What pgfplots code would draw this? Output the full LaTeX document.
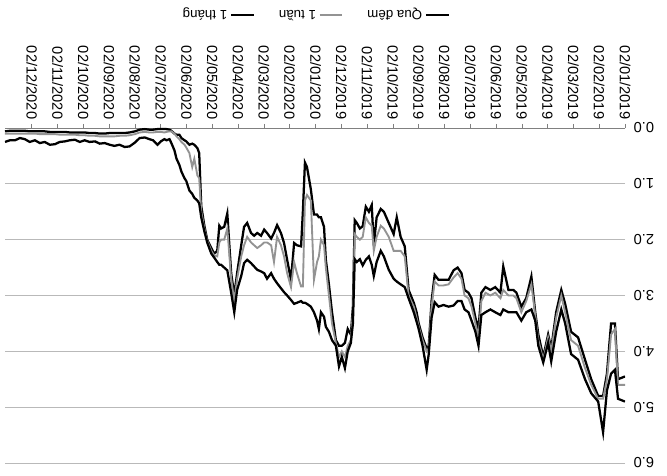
\documentclass[border=0pt]{standalone}
\usepackage{pgfplots}
\pgfplotsset{compat=1.18}
\usepackage{pgfplotstable}
\usepackage{fontspec}
\setmainfont{Liberation Sans}

% m = months after 02/01/2019; A = qua dem, B = 1 tuan, C = 1 thang (%)
\pgfplotstableread{
m A B C
0.00 4.45 4.60 4.90
0.27 4.50 4.60 4.85
0.39 3.50 3.60 4.33
0.54 3.50 3.70 4.40
0.70 4.40 4.50 4.70
0.85 4.80 4.85 5.45
1.04 4.80 4.85 4.90
1.31 4.50 4.60 4.75
1.55 4.15 4.30 4.50
1.82 3.75 3.90 4.15
2.09 3.65 3.80 4.05
2.32 3.15 3.30 3.50
2.47 2.90 3.00 3.25
2.67 3.30 3.40 3.65
2.86 3.95 4.00 4.18
2.98 3.70 3.75 3.85
3.17 4.10 4.15 4.20
3.36 3.70 3.80 3.90
3.48 3.30 3.35 3.45
3.63 2.66 2.80 3.25
3.83 3.05 3.10 3.30
4.02 3.20 3.30 3.45
4.21 2.95 3.05 3.30
4.33 2.90 3.00 3.30
4.52 2.90 3.00 3.30
4.72 2.48 2.90 3.25
4.83 2.95 3.05 3.35
5.03 2.85 2.95 3.30
5.22 2.90 3.00 3.25
5.41 2.85 2.95 3.30
5.57 2.95 3.10 3.35
5.68 3.60 3.75 3.90
5.80 3.40 3.50 3.65
5.95 3.05 3.20 3.45
6.07 2.95 3.05 3.30
6.22 2.90 3.00 3.25
6.34 2.60 2.70 3.10
6.49 2.50 2.60 3.10
6.65 2.55 2.68 3.18
6.84 2.72 2.80 3.20
7.04 2.72 2.82 3.17
7.23 2.72 2.82 3.20
7.38 2.63 2.75 3.12
7.50 3.10 3.20 3.40
7.61 3.90 3.95 4.05
7.69 3.95 4.00 4.33
7.85 3.75 3.80 3.90
8.00 3.50 3.55 3.60
8.08 3.30 3.40 3.47
8.19 3.13 3.20 3.30
8.39 2.90 3.00 3.05
8.54 2.12 2.30 2.85
8.70 1.95 2.20 2.80
8.85 1.60 2.20 2.75
8.97 1.90 2.20 2.70
9.16 1.70 1.95 2.54
9.35 1.50 1.80 2.30
9.47 1.45 1.75 2.20
9.63 1.60 1.95 2.40
9.74 2.10 2.20 2.65
9.82 1.38 1.75 2.45
9.93 1.50 1.70 2.30
10.05 1.41 1.60 2.36
10.17 1.76 1.95 2.46
10.28 1.80 2.00 2.35
10.40 1.70 1.95 2.40
10.48 1.65 1.90 2.35
10.55 3.20 3.30 3.50
10.63 3.70 3.80 3.85
10.75 3.60 3.90 4.00
10.86 3.85 4.10 4.30
10.98 3.90 4.00 4.10
11.09 3.90 4.10 4.27
11.21 3.80 3.85 3.90
11.36 3.30 3.50 3.80
11.48 2.80 3.00 3.65
11.60 2.36 2.50 3.56
11.67 1.77 2.10 3.38
11.79 1.60 2.00 3.30
11.87 1.60 2.30 3.60
11.94 1.55 2.40 3.45
12.06 1.55 2.72 3.30
12.18 1.10 1.30 3.20
12.33 0.70 1.20 3.15
12.41 0.62 1.30 3.13
12.49 1.50 2.84 3.13
12.56 2.12 2.84 3.10
12.72 2.10 2.60 3.13
12.83 2.06 2.40 3.15
12.95 2.72 2.85 3.08
13.10 2.36 2.60 3.00
13.22 2.06 2.30 2.94
13.34 1.88 2.10 2.87
13.49 1.74 1.95 2.78
13.61 1.88 2.40 2.70
13.72 1.98 2.10 2.60
13.88 1.88 2.05 2.70
13.99 1.82 2.05 2.60
14.11 1.93 2.10 2.57
14.26 1.88 2.15 2.54
14.38 1.93 2.10 2.48
14.50 1.88 2.05 2.42
14.65 1.70 1.95 2.36
14.77 1.77 2.10 2.42
14.88 2.10 2.30 2.65
15.04 2.60 2.70 2.90
15.15 3.00 3.10 3.30
15.27 2.60 2.70 2.95
15.42 1.53 1.80 2.55
15.54 1.77 2.00 2.50
15.66 1.80 2.00 2.45
15.73 1.75 2.05 2.45
15.81 2.20 2.30 2.40
15.93 2.25 2.28 2.32
16.04 2.15 2.20 2.25
16.20 2.00 2.02 2.05
16.31 1.75 1.80 1.85
16.43 1.40 1.50 1.60
16.51 0.45 0.90 1.35
16.58 0.36 0.85 1.30
16.70 0.30 0.55 1.25
16.78 0.28 0.70 1.18
16.89 0.30 0.45 1.12
17.01 0.24 0.35 0.95
17.08 0.22 0.30 0.90
17.20 0.18 0.25 0.78
17.28 0.12 0.20 0.66
17.39 0.12 0.15 0.55
17.47 0.10 0.10 0.40
17.59 0.05 0.06 0.27
17.66 0.03 0.06 0.20
17.78 0.02 0.07 0.22
17.86 0.02 0.08 0.20
18.00 0.02 0.07 0.24
18.13 0.02 0.07 0.30
18.30 0.03 0.08 0.22
18.44 0.03 0.08 0.20
18.62 0.02 0.07 0.17
18.82 0.03 0.08 0.18
19.00 0.06 0.11 0.26
19.21 0.08 0.13 0.33
19.40 0.09 0.14 0.34
19.60 0.09 0.14 0.30
19.80 0.09 0.15 0.32
19.98 0.09 0.15 0.30
20.17 0.10 0.15 0.27
20.37 0.10 0.15 0.28
20.55 0.09 0.14 0.24
20.76 0.09 0.14 0.25
20.95 0.08 0.13 0.22
21.14 0.08 0.13 0.25
21.33 0.08 0.12 0.21
21.53 0.08 0.12 0.22
21.72 0.07 0.12 0.24
21.92 0.07 0.12 0.25
22.10 0.07 0.11 0.29
22.30 0.07 0.11 0.30
22.50 0.06 0.11 0.25
22.69 0.06 0.11 0.27
22.88 0.06 0.10 0.22
23.08 0.06 0.10 0.25
23.27 0.05 0.10 0.20
23.46 0.05 0.10 0.18
23.65 0.05 0.10 0.22
23.85 0.05 0.10 0.22
24.04 0.06 0.10 0.25
}\rates

\begin{document}
\begin{tikzpicture}
\begin{axis}[
    scale only axis,
    width=465pt, height=251.25pt,
    x dir=reverse, y dir=reverse,
    xmin=0, xmax=24.04, ymin=0, ymax=6,
    axis x line*=top, axis y line*=right,
    x axis line style={gray, line width=0.6pt},
    y axis line style={draw=none},
    xtick={0,1,...,23},
    xticklabels={02/01/2019,02/02/2019,02/03/2019,02/04/2019,02/05/2019,02/06/2019,
                 02/07/2019,02/08/2019,02/09/2019,02/10/2019,02/11/2019,02/12/2019,
                 02/01/2020,02/02/2020,02/03/2020,02/04/2020,02/05/2020,02/06/2020,
                 02/07/2020,02/08/2020,02/09/2020,02/10/2020,02/11/2020,02/12/2020},
    ytick={0,1,...,6},
    yticklabel style={/pgf/number format/fixed, /pgf/number format/fixed zerofill,
                      /pgf/number format/precision=1},
    /pgf/number format/assume math mode=true,
    tick label style={font=\fontsize{11}{13}\selectfont},
    xticklabel style={rotate=-90, anchor=east},
    yticklabel style={rotate=180, anchor=east},
    tick align=outside,
    major tick length=3pt,
    xtick style={gray, line width=0.5pt},
    ytick style={draw=none},
    ymajorgrids,
    major grid style={gray!55, line width=0.6pt},
    legend columns=3,
    reverse legend,
    legend plot pos=right,
    legend style={draw=none, fill=none,
        at={(axis description cs:0.5,1)}, anchor=center, yshift=85pt,
        font=\fontsize{10}{12}\selectfont,
        nodes={rotate=180},
        /tikz/every even column/.append style={column sep=16pt}},
]
\addplot[black, line width=1.7pt] table[x=m, y=A] {\rates};
\addlegendentry{Qua đêm}
\addplot[gray!85, line width=1.4pt] table[x=m, y=B] {\rates};
\addlegendentry{1 tuần}
\addplot[black, line width=1.7pt] table[x=m, y=C] {\rates};
\addlegendentry{1 tháng}
\end{axis}
\pgfresetboundingbox
\path[use as bounding box] ([xshift=-3.75pt, yshift=-9.75pt]current axis.south west)
    rectangle ([xshift=31.5pt, yshift=96pt]current axis.north east);
\end{tikzpicture}
\end{document}
